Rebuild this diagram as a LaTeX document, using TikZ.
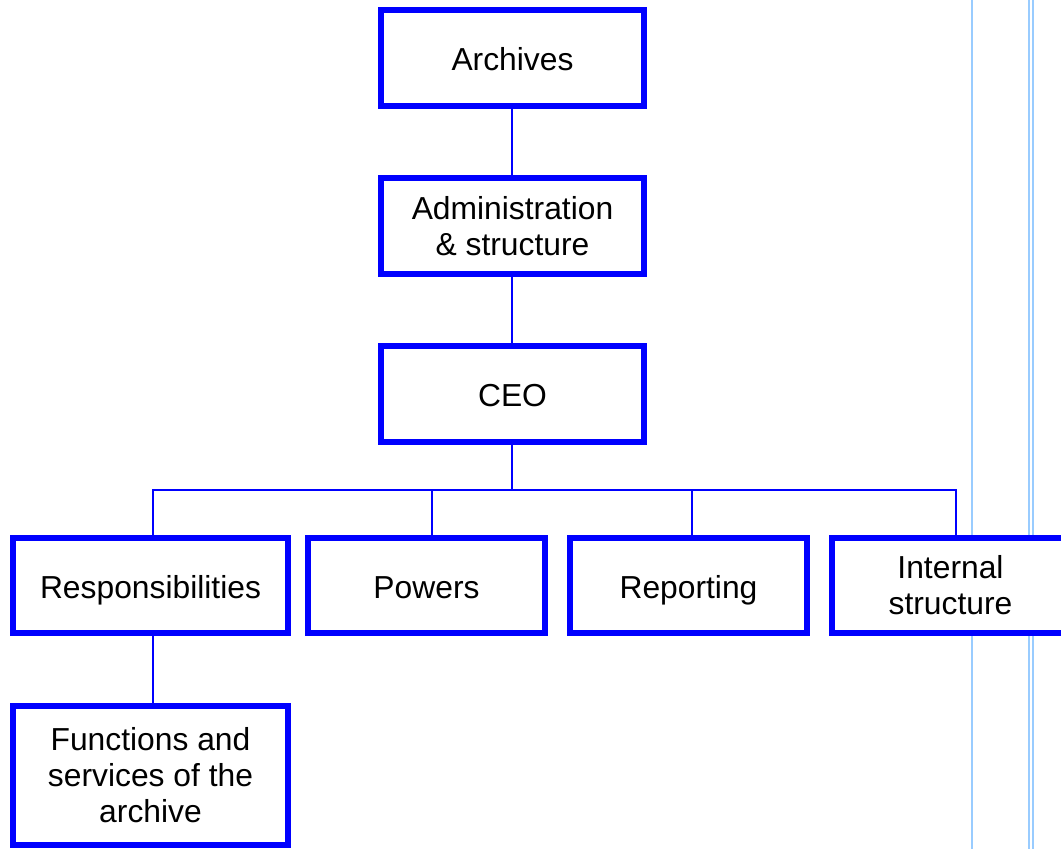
\documentclass[tikz,border=0pt]{standalone}
\usepackage{fontspec}
\setmainfont{Liberation Sans}
\definecolor{boxblue}{HTML}{0000FF}
\definecolor{guideblue}{HTML}{99CCFF}
\begin{document}
\begin{tikzpicture}[x=1pt,y=-1pt,
  orgbox/.style={draw=boxblue, fill=white, line width=6pt, rectangle, inner sep=0pt,
    font=\fontsize{31.8}{36}\selectfont, align=center},
  single/.style={text height=25pt, text depth=0pt},
  link/.style={draw=boxblue, line width=2pt},
  guide/.style={draw=guideblue, line width=2pt}]
\useasboundingbox (0,0) rectangle (1061,849);
% guide lines
\coordinate (g1t) at (972,0);   \coordinate (g1b) at (972,849);
\coordinate (g2t) at (1029,0);  \coordinate (g2b) at (1029,849);
\coordinate (g3t) at (1033,0);  \coordinate (g3b) at (1033,849);
\draw[guide] (g1t) -- (g1b);
\draw[guide] (g2t) -- (g2b);
\draw[guide] (g3t) -- (g3b);
% boxes
\node[orgbox, single, minimum width=263pt, minimum height=96pt] (arch) at (512.5,58) {Archives};
\node[orgbox, minimum width=263pt, minimum height=96pt] (admin) at (512.5,226) {Administration\\\& structure};
\node[orgbox, single, minimum width=263pt, minimum height=96pt] (ceo) at (512.5,394) {CEO};
\node[orgbox, single, minimum width=275pt, minimum height=95pt] (resp) at (150.5,585.5) {Responsibilities};
\node[orgbox, single, minimum width=237pt, minimum height=95pt] (pow) at (426.5,585.5) {Powers};
\node[orgbox, single, minimum width=237pt, minimum height=95pt] (rep) at (688.5,585.5) {Reporting};
\node[orgbox, minimum width=237pt, minimum height=95pt] (intl) at (950.5,585.5) {Internal\\structure};
\node[orgbox, minimum width=275pt, minimum height=139pt] (func) at (150.5,775.5) {Functions and\\services of the\\archive};
% connectors
\coordinate (bus) at (512,490);
\coordinate (d1) at (153,490);
\coordinate (d2) at (432,490);
\coordinate (d3) at (692,490);
\coordinate (d4) at (956,490);
\draw[link] (arch.south -| bus) -- (admin.north -| bus);
\draw[link] (admin.south -| bus) -- (ceo.north -| bus);
\draw[link] (ceo.south -| bus) -- (bus);
\draw[link] (d1 |- resp.north) -- (d1) -- (d4) -- (d4 |- intl.north);
\draw[link] (d2) -- (d2 |- pow.north);
\draw[link] (d3) -- (d3 |- rep.north);
\draw[link] (d1 |- resp.south) -- (d1 |- func.north);
\end{tikzpicture}
\end{document}
